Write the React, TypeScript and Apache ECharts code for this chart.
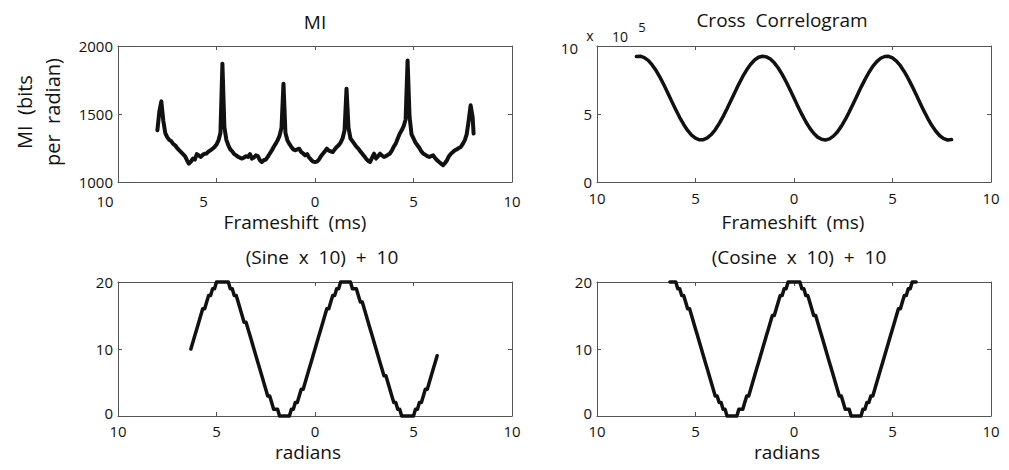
import React, { useEffect, useRef } from 'react';
import * as echarts from 'echarts';

// ---------- data ----------
// MI panel: frameshift (ms) and MI (bits per radian)
const miX = [
  -8.0, -7.9, -7.8, -7.7, -7.6, -7.5, -7.4, -7.3, -7.2, -7.1, -7.0, -6.9, -6.8, -6.7, -6.6, -6.5, -6.4, -6.3, -6.2, -6.1,
  -6.0, -5.9, -5.8, -5.7, -5.6, -5.5, -5.4, -5.3, -5.2, -5.1, -5.0, -4.9, -4.8, -4.7, -4.6, -4.5, -4.4, -4.3, -4.2, -4.1,
  -4.0, -3.9, -3.8, -3.7, -3.6, -3.5, -3.4, -3.3, -3.2, -3.1, -3.0, -2.9, -2.8, -2.7, -2.6, -2.5, -2.4, -2.3, -2.2, -2.1,
  -2.0, -1.9, -1.8, -1.7, -1.6, -1.5, -1.4, -1.3, -1.2, -1.1, -1.0, -0.9, -0.8, -0.7, -0.6, -0.5, -0.4, -0.3, -0.2, -0.1,
  0.0, 0.1, 0.2, 0.3, 0.4, 0.5, 0.6, 0.7, 0.8, 0.9, 1.0, 1.1, 1.2, 1.3, 1.4, 1.5, 1.6, 1.7, 1.8, 1.9,
  2.0, 2.1, 2.2, 2.3, 2.4, 2.5, 2.6, 2.7, 2.8, 2.9, 3.0, 3.1, 3.2, 3.3, 3.4, 3.5, 3.6, 3.7, 3.8, 3.9,
  4.0, 4.1, 4.2, 4.3, 4.4, 4.5, 4.6, 4.7, 4.8, 4.9, 5.0, 5.1, 5.2, 5.3, 5.4, 5.5, 5.6, 5.7, 5.8, 5.9,
  6.0, 6.1, 6.2, 6.3, 6.4, 6.5, 6.6, 6.7, 6.8, 6.9, 7.0, 7.1, 7.2, 7.3, 7.4, 7.5, 7.6, 7.7, 7.8, 7.9,
  8.0, 8.05,
];
const miY = [
  1380, 1520, 1593, 1450, 1360, 1330, 1310, 1300, 1280, 1270, 1250, 1235, 1220, 1205, 1190, 1160, 1135, 1150, 1172, 1165,
  1205, 1195, 1184, 1200, 1208, 1210, 1225, 1233, 1245, 1257, 1275, 1306, 1360, 1870, 1404, 1310, 1270, 1240, 1225, 1205,
  1196, 1185, 1178, 1172, 1180, 1190, 1184, 1205, 1172, 1180, 1196, 1190, 1160, 1147, 1160, 1165, 1185, 1208, 1230, 1257,
  1280, 1306, 1340, 1400, 1723, 1360, 1306, 1280, 1257, 1240, 1233, 1240, 1245, 1220, 1210, 1196, 1205, 1180, 1164, 1150,
  1147, 1150, 1165, 1190, 1208, 1225, 1245, 1230, 1225, 1220, 1240, 1257, 1270, 1290, 1320, 1380, 1686, 1400, 1320, 1300,
  1280, 1260, 1245, 1225, 1208, 1190, 1170, 1155, 1147, 1180, 1208, 1172, 1190, 1208, 1195, 1184, 1190, 1200, 1208, 1230,
  1260, 1282, 1320, 1355, 1380, 1410, 1460, 1894, 1480, 1350, 1320, 1290, 1270, 1250, 1225, 1208, 1200, 1190, 1184, 1190,
  1196, 1175, 1160, 1147, 1135, 1123, 1140, 1160, 1190, 1208, 1220, 1233, 1240, 1250, 1257, 1280, 1306, 1350, 1450, 1564,
  1480, 1356,
];

// Cross correlogram: frameshift (ms) and count (x 10^5)
const ccX = [
  -8.0, -7.8, -7.6, -7.4, -7.2, -7.0, -6.8, -6.6, -6.4, -6.2, -6.0, -5.8, -5.6, -5.4, -5.2, -5.0, -4.8, -4.6, -4.4, -4.2,
  -4.0, -3.8, -3.6, -3.4, -3.2, -3.0, -2.8, -2.6, -2.4, -2.2, -2.0, -1.8, -1.6, -1.4, -1.2, -1.0, -0.8, -0.6, -0.4, -0.2,
  0.0, 0.2, 0.4, 0.6, 0.8, 1.0, 1.2, 1.4, 1.6, 1.8, 2.0, 2.2, 2.4, 2.6, 2.8, 3.0, 3.2, 3.4, 3.6, 3.8,
  4.0, 4.2, 4.4, 4.6, 4.8, 5.0, 5.2, 5.4, 5.6, 5.8, 6.0, 6.2, 6.4, 6.6, 6.8, 7.0, 7.2, 7.4, 7.6, 7.8, 8.0,
];
const ccY = [
  9.22, 9.25, 9.15, 8.94, 8.61, 8.19, 7.69, 7.13, 6.53, 5.91, 5.31, 4.74, 4.23, 3.79, 3.45, 3.22, 3.10, 3.11, 3.24, 3.49,
  3.84, 4.29, 4.81, 5.38, 5.99, 6.60, 7.20, 7.76, 8.25, 8.66, 8.97, 9.17, 9.25, 9.20, 9.04, 8.76, 8.38, 7.91, 7.37, 6.78,
  6.17, 5.56, 4.97, 4.43, 3.96, 3.58, 3.30, 3.14, 3.09, 3.17, 3.37, 3.68, 4.09, 4.58, 5.14, 5.74, 6.35, 6.96, 7.53, 8.05,
  8.50, 8.85, 9.10, 9.23, 9.24, 9.12, 8.89, 8.55, 8.11, 7.60, 7.03, 6.43, 5.81, 5.21, 4.65, 4.15, 3.73, 3.40, 3.19, 3.09, 3.12,
];

// (Sine x 10) + 10 and (Cosine x 10) + 10 against radians
const radX = [
  -6.3, -6.2, -6.1, -6.0, -5.9, -5.8, -5.7, -5.6, -5.5, -5.4, -5.3, -5.2, -5.1, -5.0, -4.9, -4.8, -4.7, -4.6, -4.5, -4.4,
  -4.3, -4.2, -4.1, -4.0, -3.9, -3.8, -3.7, -3.6, -3.5, -3.4, -3.3, -3.2, -3.1, -3.0, -2.9, -2.8, -2.7, -2.6, -2.5, -2.4,
  -2.3, -2.2, -2.1, -2.0, -1.9, -1.8, -1.7, -1.6, -1.5, -1.4, -1.3, -1.2, -1.1, -1.0, -0.9, -0.8, -0.7, -0.6, -0.5, -0.4,
  -0.3, -0.2, -0.1, 0.0, 0.1, 0.2, 0.3, 0.4, 0.5, 0.6, 0.7, 0.8, 0.9, 1.0, 1.1, 1.2, 1.3, 1.4, 1.5, 1.6,
  1.7, 1.8, 1.9, 2.0, 2.1, 2.2, 2.3, 2.4, 2.5, 2.6, 2.7, 2.8, 2.9, 3.0, 3.1, 3.2, 3.3, 3.4, 3.5, 3.6,
  3.7, 3.8, 3.9, 4.0, 4.1, 4.2, 4.3, 4.4, 4.5, 4.6, 4.7, 4.8, 4.9, 5.0, 5.1, 5.2, 5.3, 5.4, 5.5, 5.6,
  5.7, 5.8, 5.9, 6.0, 6.1, 6.2,
];
const sineY = [
  10, 11, 12, 13, 14, 15, 16, 16, 17, 18, 18, 19, 19, 20, 20, 20, 20, 20, 20, 20,
  19, 19, 18, 18, 17, 16, 15, 14, 14, 13, 12, 11, 10, 9, 8, 7, 6, 5, 4, 3,
  3, 2, 1, 1, 1, 0, 0, 0, 0, 0, 0, 1, 1, 2, 2, 3, 4, 4, 5, 6,
  7, 8, 9, 10, 11, 12, 13, 14, 15, 16, 16, 17, 18, 18, 19, 19, 20, 20, 20, 20,
  20, 20, 19, 19, 19, 18, 17, 17, 16, 15, 14, 13, 12, 11, 10, 9, 8, 7, 6, 6,
  5, 4, 3, 2, 2, 1, 1, 0, 0, 0, 0, 0, 0, 0, 1, 1, 2, 2, 3, 4,
  4, 5, 6, 7, 8, 9,
];
const cosineY = [
  20, 20, 20, 20, 19, 19, 18, 18, 17, 16, 16, 15, 14, 13, 12, 11, 10, 9, 8, 7,
  6, 5, 4, 3, 3, 2, 2, 1, 1, 0, 0, 0, 0, 0, 0, 1, 1, 1, 2, 3,
  3, 4, 5, 6, 7, 8, 9, 10, 11, 12, 13, 14, 15, 15, 16, 17, 18, 18, 19, 19,
  20, 20, 20, 20, 20, 20, 20, 19, 19, 18, 18, 17, 16, 15, 15, 14, 13, 12, 11, 10,
  9, 8, 7, 6, 5, 4, 3, 3, 2, 1, 1, 1, 0, 0, 0, 0, 0, 0, 1, 1,
  2, 2, 3, 3, 4, 5, 6, 7, 8, 9, 10, 11, 12, 13, 14, 15, 16, 16, 17, 18,
  18, 19, 19, 20, 20, 20,
];

// axis ranges / tick steps
const xRange = [-10, 10];
const xStep = 5;
const miRange = [1000, 2000];
const miStep = 500;
const ccRange = [0, 10];
const ccStep = 5;
const trigRange = [0, 20];
const trigStep = 10;

// ---------- styles ----------
const FONT = '"Open Sans", "DejaVu Sans", sans-serif';
const INK = '#111';
const AXIS = '#555';
const TICK_FS = 15;

const zip = (xs: number[], ys: number[]) => xs.map((x, i) => [x, ys[i]]);

export default function App() {
  const ref = useRef<HTMLDivElement>(null);

  useEffect(() => {
    if (!ref.current) return;
    const chart = echarts.init(ref.current, null, { renderer: 'svg' });

    const grids = [
      { left: 118, top: 46, width: 394, height: 136 },
      { left: 597, top: 46, width: 394, height: 136 },
      { left: 118, top: 282, width: 394, height: 134 },
      { left: 597, top: 282, width: 394, height: 134 },
    ];

    const lineCfg = { show: true, onZero: false, lineStyle: { color: AXIS, width: 1 } };
    const tickCfg = { show: true, inside: true, length: 4, lineStyle: { color: AXIS, width: 1 } };
    const labelBase = { color: INK, fontSize: TICK_FS, fontFamily: FONT, lineHeight: 14 };

    const xAxes: any[] = [];
    const yAxes: any[] = [];
    const yDefs = [
      { r: miRange, s: miStep },
      { r: ccRange, s: ccStep },
      { r: trigRange, s: trigStep },
      { r: trigRange, s: trigStep },
    ];
    for (let g = 0; g < 4; g++) {
      const bottomMargin = g === 0 ? 12 : g === 1 ? 9 : 8;
      const xLabel: any =
        g === 0
          ? {
              ...labelBase,
              margin: bottomMargin,
              formatter: (v: number) => (v < 0 ? `{n|${Math.abs(v)}}` : `{p|${v}}`),
              rich: {
                n: { ...labelBase, padding: [0, 26, 0, 0] },
                p: { ...labelBase },
              },
            }
          : { ...labelBase, margin: bottomMargin, formatter: (v: number) => String(Math.abs(v)) };
      xAxes.push({
        type: 'value', gridIndex: g, position: 'bottom', min: xRange[0], max: xRange[1], interval: xStep,
        axisLine: lineCfg, axisTick: tickCfg, splitLine: { show: false }, axisLabel: xLabel,
      });
      xAxes.push({
        type: 'value', gridIndex: g, position: 'top', min: xRange[0], max: xRange[1], interval: xStep,
        axisLine: lineCfg, axisTick: tickCfg, splitLine: { show: false }, axisLabel: { show: false },
      });
      const yd = yDefs[g];
      let yFmt: any = (v: number) => `{p|${v}}`;
      if (g === 1) yFmt = (v: number) => (v === ccRange[1] ? '' : `{p|${v}}`);
      if (g >= 2) yFmt = (v: number) => (v === yd.r[0] ? `{z|${v}}` : `{p|${v}}`);
      yAxes.push({
        type: 'value', gridIndex: g, position: 'left', min: yd.r[0], max: yd.r[1], interval: yd.s,
        axisLine: lineCfg, axisTick: tickCfg, splitLine: { show: false },
        axisLabel: {
          ...labelBase, margin: 5, formatter: yFmt,
          rich: {
            p: { ...labelBase },
            z: { ...labelBase, padding: [0, 0, 6, 0] },
          },
        },
      });
      yAxes.push({
        type: 'value', gridIndex: g, position: 'right', min: yd.r[0], max: yd.r[1], interval: yd.s,
        axisLine: lineCfg, axisTick: tickCfg, splitLine: { show: false }, axisLabel: { show: false },
      });
    }

    const mkSeries = (g: number, data: number[][], w: number) => ({
      type: 'line', xAxisIndex: 2 * g, yAxisIndex: 2 * g, data,
      showSymbol: false, symbol: 'none', clip: false,
      lineStyle: { color: INK, width: w, join: 'round', cap: 'round' },
    });

    const txt = (text: string, x: number, y: number, size: number, extra: any = {}) => ({
      type: 'text', x, y, ...extra,
      style: {
        text, fill: INK, fontSize: size, fontFamily: FONT, lineHeight: size + 1,
        align: 'center', verticalAlign: 'middle', ...(extra.style || {}),
      },
    });

    const graphics: any[] = [
      txt('MI', 315, 22, 19),
      txt('Cross  Correlogram', 782, 20, 19),
      txt('x', 590, 35, 14),
      txt('10', 620, 36, 14),
      txt('5', 642, 27, 13),
      { type: 'text', x: 578, y: 48, style: { text: '10', fill: INK, fontSize: TICK_FS, fontFamily: FONT, lineHeight: 14, align: 'right', verticalAlign: 'middle' } },
      txt('Frameshift  (ms)', 295, 222, 19),
      txt('Frameshift  (ms)', 793, 222, 19),
      txt('(Sine  x  10)  +  10', 322, 257, 19),
      txt('(Cosine  x  10)  +  10', 799, 257, 19),
      txt('radians', 308, 452, 19),
      txt('radians', 787, 452, 19),
      {
        type: 'text', x: 38, y: 112, rotation: Math.PI / 2,
        style: {
          text: 'MI  (bits\nper  radian)', fill: INK, fontSize: 20, fontFamily: FONT,
          align: 'center', verticalAlign: 'middle', lineHeight: 28,
        },
      },
    ];

    chart.setOption({
      animation: false,
      backgroundColor: '#ffffff',
      grid: grids,
      xAxis: xAxes,
      yAxis: yAxes,
      series: [
        mkSeries(0, zip(miX, miY), 4),
        mkSeries(1, zip(ccX, ccY), 3.5),
        mkSeries(2, zip(radX, sineY), 3.5),
        mkSeries(3, zip(radX, cosineY), 3.5),
      ],
      graphic: graphics,
    });

    return () => chart.dispose();
  }, []);

  return (
    <div
      ref={ref}
      style={{ position: 'absolute', left: 0, top: 0, width: 1009, height: 470, background: '#fff' }}
    />
  );
}
